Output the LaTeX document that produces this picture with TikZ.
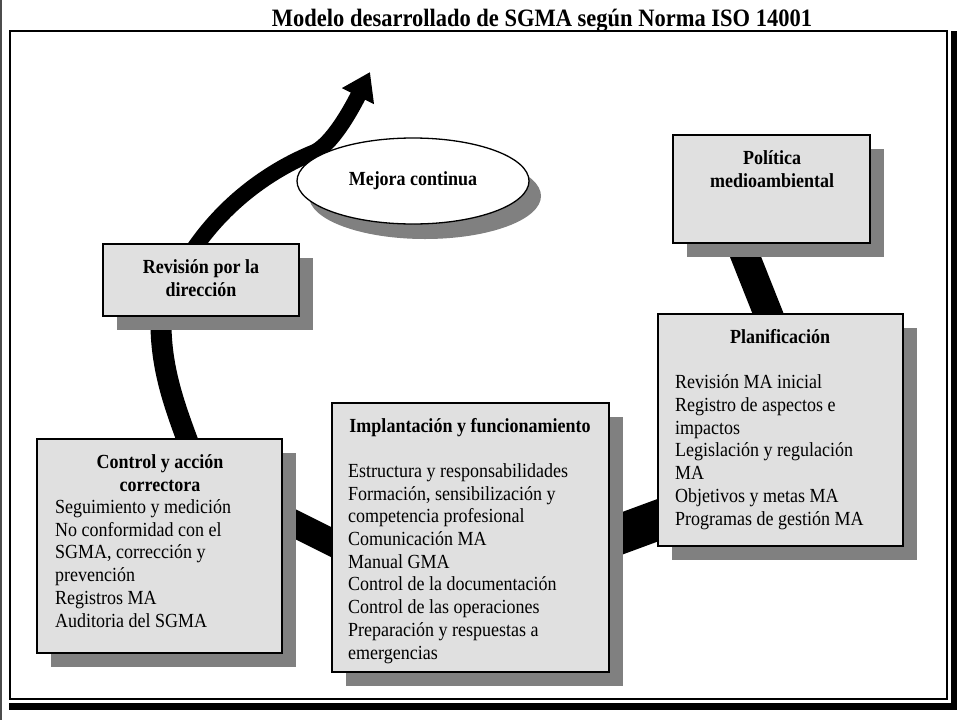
\documentclass[tikz,border=0pt]{standalone}
\usepackage{fontspec}
\setmainfont{Liberation Serif}[FakeStretch=0.9]
\usetikzlibrary{shapes.geometric,arrows.meta,positioning,shadows,backgrounds}

\begin{document}
\fontsize{20}{22.7}\selectfont
\begin{tikzpicture}[x=1pt,y=-1pt]
  \tikzstyle{caja}=[rectangle, draw=black, line width=1.3pt, fill=black!12, inner sep=0pt, drop shadow={shadow xshift=14pt, shadow yshift=-14pt, fill=black!50, opacity=1}]
  \tikzstyle{titulo}=[font=\bfseries, align=center, inner sep=0pt, anchor=base]
  \tikzstyle{lista}=[align=left, inner sep=0pt, anchor=base west]
  \tikzstyle{lazo}=[draw=black, line cap=butt]

  \useasboundingbox (0,0) rectangle (960,720);

  % Marco
  \draw[black!70, line width=2pt] (1,0) -- (1,720);
  \draw[line width=1.4pt] (10,31) rectangle (947,699);
  \fill (951,31) rectangle (957,710);
  \fill (9,703) rectangle (957,710);

  % Titulo
  \node[font=\fontsize{25}{28}\selectfont\bfseries, inner sep=0pt, anchor=base] (tit) at (542,27) {Modelo desarrollado de SGMA según Norma ISO 14001};

  % Cajas del ciclo
  \node[caja, minimum width=197pt, minimum height=108pt] (pol) at (771.5,189) {};
  \node[caja, minimum width=245pt, minimum height=232pt] (plan) at (780.5,430) {};
  \node[caja, minimum width=277pt, minimum height=269pt] (impl) at (470.5,537.5) {};
  \node[caja, minimum width=245pt, minimum height=214pt] (ctrl) at (159.5,546) {};
  \node[caja, minimum width=196pt, minimum height=72pt] (rev) at (201,280) {};

  % Textos de las cajas (la base es la ultima linea)
  \node[titulo] (pol-t) at (772,187) {Política\\medioambiental};
  \node[titulo] (plan-t) at (780,343) {Planificación};
  \node[lista] (plan-l) at (675,525) {Revisión MA inicial\\Registro de aspectos e\\impactos\\Legislación y regulación\\MA\\Objetivos y metas MA\\Programas de gestión MA};
  \node[titulo] (impl-t) at (470,432) {Implantación y funcionamiento};
  \node[lista] (impl-l) at (348,659) {Estructura y responsabilidades\\Formación, sensibilización y\\competencia profesional\\Comunicación MA\\Manual GMA\\Control de la documentación\\Control de las operaciones\\Preparación y respuestas a\\emergencias};
  \node[titulo] (ctrl-t) at (160,491) {Control y acción\\correctora};
  \node[lista] (ctrl-l) at (55,627) {Seguimiento y medición\\No conformidad con el\\SGMA, corrección y\\prevención\\Registros MA\\Auditoria del SGMA};
  \node[titulo] (rev-t) at (201,296) {Revisión por la\\dirección};

  % Mejora continua
  \node[ellipse, draw=black, line width=1.3pt, fill=white, minimum width=232pt, minimum height=86pt, inner sep=0pt, font=\bfseries, drop shadow={shadow xshift=12pt, shadow yshift=-15pt, fill=black!50, opacity=1}] (mejora) at (413,181) {Mejora continua};

  % Lazo negro (detras de las cajas)
  \begin{scope}[on background layer]
    % Politica -> Planificacion
    \coordinate (a1) at (742,248);
    \coordinate (a2) at (773,326);
    \draw[lazo, line width=29pt] (a1) -- (a2);
    % Planificacion -> Implantacion
    \coordinate (b1) at (680,512);
    \coordinate (b2) at (600,541.5);
    \draw[lazo, line width=40pt] (b1) -- (b2);
    % Implantacion -> Control
    \coordinate (c1) at (352,552.5);
    \coordinate (c2) at (275,514);
    \draw[lazo, line width=27pt] (c1) -- (c2);
    % Control -> Revision
    \coordinate (d1) at (194,458);
    \coordinate (d2) at (161,318);
    \draw[lazo, line width=21pt] (d1) .. controls (176,410) and (160,370) .. (d2);
    % Revision -> flecha de mejora
    \coordinate (e1) at (186,261);
    \coordinate (e2) at (370,72);
    \draw[lazo, line width=16pt, -{Triangle[width=34pt,length=27pt]}] (e1) .. controls (220,205) and (270,170) .. (315,152) .. controls (335,142) and (356,100) .. (e2);
  \end{scope}
\end{tikzpicture}
\end{document}
